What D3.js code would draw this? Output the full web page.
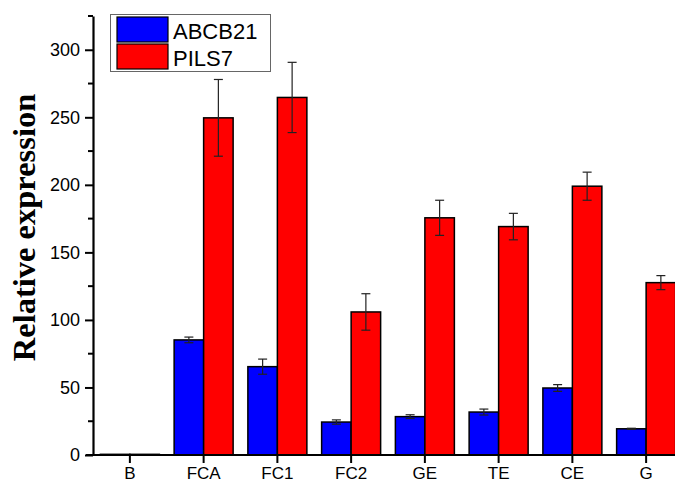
<!DOCTYPE html>
<html>
<head>
<meta charset="utf-8">
<script src="https://cdn.jsdelivr.net/npm/d3@7.9.0/dist/d3.min.js"></script>
<style>
  body { margin: 0; background: #fff; }
  svg { display: block; }
  text { font-family: "Liberation Sans", Arial, sans-serif; }
</style>
</head>
<body>
<svg id="chart" width="675" height="483"></svg>
<script>
const categories = ['B', 'FCA', 'FC1', 'FC2', 'GE', 'TE', 'CE', 'G'];
const abcb21 = [0.5, 85.2, 65.4, 24.4, 28.4, 31.8, 49.6, 19.4];
const abcb21Err = [0, 2.1, 5.6, 1.6, 1.4, 2.2, 2.5, 0.4];
const pils7 = [0.5, 249.6, 264.7, 105.9, 175.6, 169.1, 199.0, 127.6];
const pils7Err = [0, 28.4, 26.0, 13.5, 13.0, 9.8, 10.4, 5.2];
const yTicks = [0, 50, 100, 150, 200, 250, 300];
const yMinorTicks = [25, 75, 125, 175, 225, 275, 325];
const seriesNames = ['ABCB21', 'PILS7'];
const seriesColors = ['#0000ff', '#ff0000'];

const svg = d3.select('#chart');

const x = d3.scaleBand()
  .domain(categories)
  .range([93, 683])
  .padding(0);

const y = d3.scaleLinear()
  .domain([0, 325])
  .range([455, 16]);

const barW = x.bandwidth() * 0.4;

const series = [
  { name: seriesNames[0], values: abcb21, errs: abcb21Err, color: seriesColors[0], offset: -1 },
  { name: seriesNames[1], values: pils7, errs: pils7Err, color: seriesColors[1], offset: 0 }
];

// bars
series.forEach(s => {
  svg.append('g')
    .selectAll('rect')
    .data(categories)
    .join('rect')
    .attr('x', (d) => x(d) + x.bandwidth() / 2 + s.offset * barW)
    .attr('y', (d, i) => y(s.values[i]))
    .attr('width', barW)
    .attr('height', (d, i) => y(0) - y(s.values[i]))
    .attr('fill', s.color)
    .attr('stroke', '#000')
    .attr('stroke-width', 1.5);
});

// error bars
series.forEach(s => {
  const g = svg.append('g').attr('stroke', '#222').attr('stroke-width', 1.2);
  categories.forEach((c, i) => {
    if (!s.errs[i]) return;
    const cx = x(c) + x.bandwidth() / 2 + s.offset * barW + barW / 2;
    const top = y(s.values[i] + s.errs[i]);
    const bot = y(s.values[i] - s.errs[i]);
    g.append('line').attr('x1', cx).attr('x2', cx).attr('y1', top).attr('y2', bot);
    g.append('line').attr('x1', cx - 4.5).attr('x2', cx + 4.5).attr('y1', top).attr('y2', top);
    g.append('line').attr('x1', cx - 4.5).attr('x2', cx + 4.5).attr('y1', bot).attr('y2', bot);
  });
});

// y axis
const yAxis = svg.append('g')
  .attr('transform', 'translate(93,0)')
  .call(d3.axisLeft(y).tickValues(yTicks).tickSize(8).tickPadding(5).tickSizeOuter(0));
yAxis.select('.domain').attr('stroke-width', 2.2);
yAxis.selectAll('.tick line').attr('stroke-width', 2);
yAxis.selectAll('.tick text')
  .attr('font-size', 18)
  .attr('fill', '#000')
  .style('font-family', '"Liberation Sans", Arial, sans-serif');

svg.append('g')
  .attr('transform', 'translate(93,0)')
  .selectAll('line')
  .data(yMinorTicks)
  .join('line')
  .attr('x1', -5)
  .attr('x2', 0)
  .attr('y1', (d) => y(d))
  .attr('y2', (d) => y(d))
  .attr('stroke', '#000')
  .attr('stroke-width', 2);

// x axis
const xAxis = svg.append('g')
  .attr('transform', 'translate(0,455)')
  .call(d3.axisBottom(x).tickSize(8).tickPadding(4).tickSizeOuter(0));
xAxis.select('.domain').attr('stroke-width', 2.2).attr('d', 'M86,0H675');
xAxis.selectAll('.tick line').attr('stroke-width', 2);
xAxis.selectAll('.tick text')
  .attr('font-size', 17)
  .attr('fill', '#000')
  .style('font-family', '"Liberation Sans", Arial, sans-serif');

// y axis title
svg.append('text')
  .attr('transform', 'translate(35,227.5) rotate(-90)')
  .attr('text-anchor', 'middle')
  .style('font-family', '"Liberation Serif", "Times New Roman", serif')
  .style('font-weight', 'bold')
  .style('font-size', '32.5px')
  .text('Relative expression');

// legend
const legend = svg.append('g');
legend.append('rect')
  .attr('x', 110.5).attr('y', 14.5)
  .attr('width', 160).attr('height', 57)
  .attr('fill', '#fff')
  .attr('stroke', '#666')
  .attr('stroke-width', 1);
series.forEach((s, i) => {
  legend.append('rect')
    .attr('x', 117).attr('y', 17 + i * 27)
    .attr('width', 51).attr('height', 25)
    .attr('fill', s.color)
    .attr('stroke', '#000')
    .attr('stroke-width', 1.2);
  legend.append('text')
    .attr('x', 173).attr('y', 38.5 + i * 27)
    .style('font-size', '22px')
    .text(s.name);
});
</script>
</body>
</html>
